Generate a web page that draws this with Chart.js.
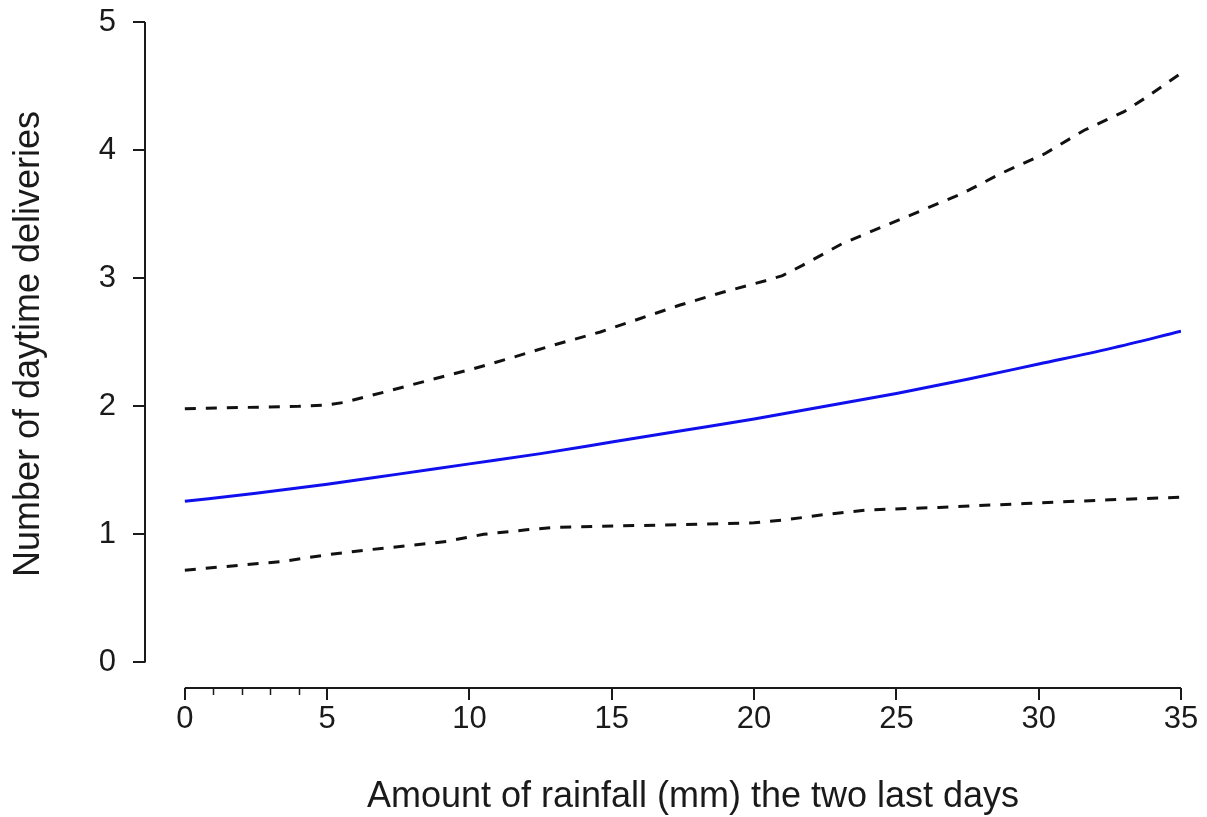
<!DOCTYPE html>
<html>
<head>
<meta charset="utf-8">
<title>Daytime deliveries vs rainfall</title>
<script src="https://cdn.jsdelivr.net/npm/chart.js@4.4.1/dist/chart.umd.min.js"></script>
<style>
  html, body { margin: 0; padding: 0; background: #fff; }
  #wrap { width: 1207px; height: 817px; position: relative; }
</style>
</head>
<body>
<div id="wrap"><canvas id="chart"></canvas></div>
<script>
// === DATA ===
var fitX = [0, 2.5, 5, 7.5, 10, 12.5, 15, 17.5, 20, 22.5, 25, 27.5, 30, 32.5, 35];
var fitY = [1.258, 1.32, 1.39, 1.47, 1.55, 1.63, 1.72, 1.81, 1.90, 2.00, 2.10, 2.21, 2.33, 2.45, 2.585];

var upperX = [0, 2, 4, 5, 5.6, 7, 8.7, 10.1, 11.5, 13, 14.6, 16, 17.4, 18.9, 20.4, 21, 21.7, 23.1, 24.5, 25.9, 27.3, 28.7, 30.2, 31.6, 33, 33.7, 35];
var upperY = [1.98, 1.99, 2.0, 2.01, 2.03, 2.11, 2.21, 2.29, 2.38, 2.48, 2.58, 2.685, 2.79, 2.89, 2.98, 3.02, 3.10, 3.27, 3.40, 3.53, 3.66, 3.82, 3.97, 4.155, 4.30, 4.40, 4.60];

var lowerX = [0, 2, 3.5, 5, 6.5, 8, 9.2, 10.5, 12, 13, 18, 20, 21, 22.5, 24, 26.5, 29.5, 32.5, 35];
var lowerY = [0.72, 0.76, 0.79, 0.84, 0.88, 0.915, 0.945, 1.0, 1.035, 1.055, 1.078, 1.09, 1.11, 1.155, 1.19, 1.21, 1.24, 1.27, 1.29];

var rugX = [1, 2, 3, 4];

var xTicks = [0, 5, 10, 15, 20, 25, 30, 35];
var yTicks = [0, 1, 2, 3, 4, 5];

var xTitle = 'Amount of rainfall (mm) the two last days';
var yTitle = 'Number of daytime deliveries';

// === HELPERS ===
function toPoints(xs, ys) {
  return xs.map(function(x, i) { return { x: x, y: ys[i] }; });
}

var FONT = '"Liberation Sans", Arial, sans-serif';
var INK = '#1a1a1a';

// R-style axes: line only spans the tick range, rug on the x axis,
// axis titles centred the way R centres them (on the figure, not the scale box)
var rAxesPlugin = {
  id: 'rAxes',
  afterDraw: function(chart) {
    var ctx = chart.ctx;
    var xs = chart.scales.x;
    var ys = chart.scales.y;
    var area = chart.chartArea;
    ctx.save();
    ctx.strokeStyle = INK;
    ctx.lineWidth = 2;
    ctx.lineCap = 'butt';

    ctx.beginPath();
    ctx.moveTo(area.left, ys.getPixelForValue(yTicks[yTicks.length - 1]));
    ctx.lineTo(area.left, ys.getPixelForValue(yTicks[0]));
    ctx.moveTo(xs.getPixelForValue(xTicks[0]), area.bottom);
    ctx.lineTo(xs.getPixelForValue(xTicks[xTicks.length - 1]), area.bottom);
    ctx.stroke();

    ctx.lineWidth = 1.5;
    ctx.beginPath();
    rugX.forEach(function(v) {
      var px = Math.round(xs.getPixelForValue(v)) + 0.5;
      ctx.moveTo(px, area.bottom + 1);
      ctx.lineTo(px, area.bottom + 7);
    });
    ctx.stroke();

    // axis titles
    ctx.fillStyle = INK;
    ctx.font = '36px ' + FONT;
    ctx.textAlign = 'center';
    ctx.textBaseline = 'middle';
    ctx.fillText(xTitle, 693, 797);

    ctx.translate(29, 344);
    ctx.rotate(-Math.PI / 2);
    ctx.fillText(yTitle, 0, 0);
    ctx.restore();
  }
};

new Chart(document.getElementById('chart'), {
  type: 'line',
  data: {
    datasets: [
      {
        label: 'Upper',
        data: toPoints(upperX, upperY),
        borderColor: '#111',
        borderWidth: 3,
        borderDash: [11, 10],
        pointRadius: 0,
        tension: 0,
        fill: false
      },
      {
        label: 'Lower',
        data: toPoints(lowerX, lowerY),
        borderColor: '#111',
        borderWidth: 3,
        borderDash: [11, 10],
        pointRadius: 0,
        tension: 0,
        fill: false
      },
      {
        label: 'Fit',
        data: toPoints(fitX, fitY),
        borderColor: '#1010ee',
        borderWidth: 3,
        pointRadius: 0,
        cubicInterpolationMode: 'monotone',
        fill: false
      }
    ]
  },
  options: {
    responsive: true,
    maintainAspectRatio: false,
    animation: false,
    devicePixelRatio: 1,
    layout: { padding: { top: 22, right: 26, left: 0, bottom: 0 } },
    plugins: {
      legend: { display: false },
      tooltip: { enabled: false }
    },
    scales: {
      x: {
        type: 'linear',
        min: -1.4,
        max: 35,
        afterBuildTicks: function(scale) {
          scale.ticks = xTicks.map(function(v) { return { value: v }; });
        },
        afterFit: function(scale) {
          scale.height = 129;
          scale.paddingLeft = 0;
          scale.paddingRight = 0;
        },
        border: { display: false },
        grid: {
          drawOnChartArea: false,
          drawTicks: true,
          tickLength: 12,
          color: INK,
          lineWidth: 2
        },
        ticks: {
          color: INK,
          padding: 4,
          maxRotation: 0,
          font: { family: FONT, size: 31, lineHeight: 1 }
        }
      },
      y: {
        type: 'linear',
        min: -0.2,
        max: 5,
        afterBuildTicks: function(scale) {
          scale.ticks = yTicks.map(function(v) { return { value: v }; });
        },
        afterFit: function(scale) {
          scale.width = 145;
          scale.paddingTop = 0;
          scale.paddingBottom = 0;
        },
        border: { display: false },
        grid: {
          drawOnChartArea: false,
          drawTicks: true,
          tickLength: 12,
          color: INK,
          lineWidth: 2
        },
        ticks: {
          color: INK,
          padding: 17,
          font: { family: FONT, size: 31, lineHeight: 1 }
        }
      }
    }
  },
  plugins: [rAxesPlugin]
});
</script>
</body>
</html>
